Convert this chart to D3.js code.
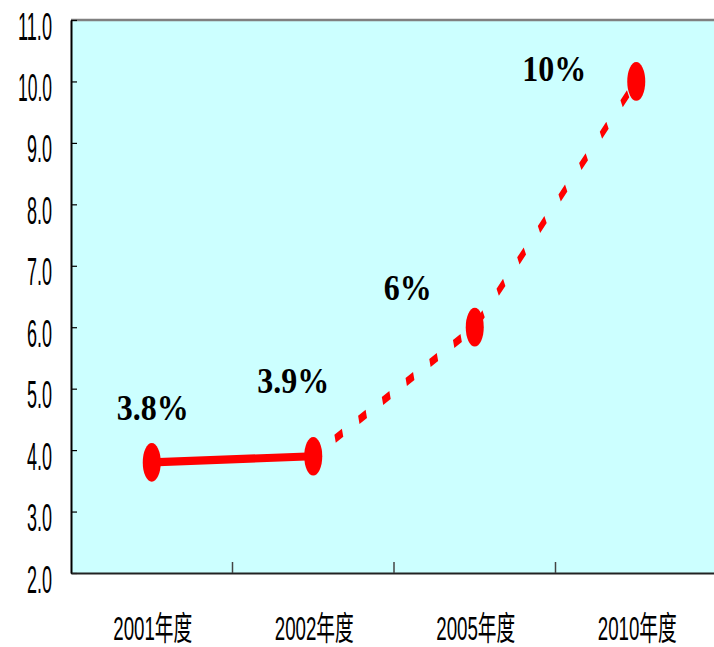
<!DOCTYPE html>
<html><head><meta charset="utf-8">
<script src="https://cdn.jsdelivr.net/npm/d3@7/dist/d3.min.js"></script>
<style>body{margin:0;background:#fff}svg{display:block}</style>
</head><body>
<script>
const categories = ["2001年度", "2002年度", "2005年度", "2010年度"];
const values = [3.8, 3.9, 6, 10];
const valueLabels = ["3.8%", "3.9%", "6%", "10%"];
const yTicks = [2, 3, 4, 5, 6, 7, 8, 9, 10, 11];

// label layout offsets (screen px relative to the point)
const labelDx = [1, -20, -67, -82];
const labelDy = [-42, -63, -27, 0];

(function () {
const W = 714, H = 647;
const k = 2.15; // vertical stretch of the original drawing
const pLeft = 71, pRight = 717, pTop = 20, pBottom = 573;

const svg = d3.select("body").append("svg").attr("width", W).attr("height", H);

const x = d3.scaleBand().domain(categories).range([pLeft, pRight]);
const y = d3.scaleLinear().domain([2, 11]).range([pBottom, pTop]);
const cx = c => x(c) + x.bandwidth() / 2;

svg.append("rect").attr("x", pLeft).attr("y", pTop).attr("width", pRight - pLeft).attr("height", pBottom - pTop).attr("fill", "#CCFFFF");
svg.append("line").attr("x1", pLeft).attr("x2", W).attr("y1", pTop).attr("y2", pTop).attr("stroke", "#808080").attr("stroke-width", 2.5);

// Y axis
const ya = svg.append("g").attr("transform", `translate(${pLeft},0)`)
  .call(d3.axisLeft(y).tickValues(yTicks).tickFormat(d3.format(".1f")).tickSizeInner(-6).tickSizeOuter(0));
ya.select(".domain").attr("stroke", "#000").attr("stroke-width", 2);
ya.selectAll(".tick line").attr("stroke", "#000").attr("stroke-width", 1.2);
ya.selectAll(".tick text")
  .attr("x", -19).attr("y", 19).attr("dy", 0)
  .attr("font-family", "'Liberation Sans', Arial, sans-serif")
  .attr("font-size", 38).attr("fill", "#000").attr("text-anchor", "end")
  .attr("textLength", d => d >= 10 ? 34 : 25).attr("lengthAdjust", "spacingAndGlyphs");

// X axis
const xa = svg.append("g").attr("transform", `translate(0,${pBottom})`)
  .call(d3.axisBottom(x).tickSize(0));
xa.select(".domain").attr("stroke", "#222").attr("stroke-width", 2);
xa.selectAll(".tick text")
  .attr("x", 1).attr("y", 67).attr("dy", 0).attr("text-anchor", "middle")
  .attr("font-family", "'Liberation Sans', Arial, 'Noto Sans CJK SC', sans-serif")
  .attr("font-size", 33.5).attr("fill", "#000")
  .attr("textLength", 79).attr("lengthAdjust", "spacingAndGlyphs");
// boundary ticks
svg.append("g").selectAll("line").data(categories.slice(1)).join("line")
  .attr("x1", d => x(d)).attr("x2", d => x(d))
  .attr("y1", pBottom).attr("y2", pBottom - 11)
  .attr("stroke", "#444").attr("stroke-width", 1.5);

// Data (drawn in the stretched space)
const pts = categories.map((c, i) => ({ c, v: values[i], label: valueLabels[i], i }));
const g = svg.append("g").attr("transform", `scale(1,${k})`);
const line = d3.line().x(d => cx(d.c)).y(d => y(d.v) / k);
g.append("path").attr("d", line(pts.slice(0, 2))).attr("fill", "none")
  .attr("stroke", "#FF0000").attr("stroke-width", 3.8);
g.append("path").attr("d", line(pts.slice(1))).attr("fill", "none")
  .attr("stroke", "#FF0000").attr("stroke-width", 4)
  .attr("stroke-dasharray", "8 17.3").attr("stroke-dashoffset", 2);
g.selectAll("circle").data(pts).join("circle")
  .attr("cx", d => cx(d.c)).attr("cy", d => y(d.v) / k).attr("r", 9)
  .attr("fill", "#FF0000");

// Value labels
svg.append("g").selectAll("text").data(pts).join("text")
  .attr("transform", d => `translate(${cx(d.c) + labelDx[d.i]},${y(d.v) + labelDy[d.i]}) scale(1,1.1)`)
  .attr("text-anchor", "middle")
  .attr("font-family", "'Liberation Serif', 'Times New Roman', serif")
  .attr("font-weight", "bold").attr("font-size", 32).attr("fill", "#000")
  .text(d => d.label);
})();
</script>
</body></html>
